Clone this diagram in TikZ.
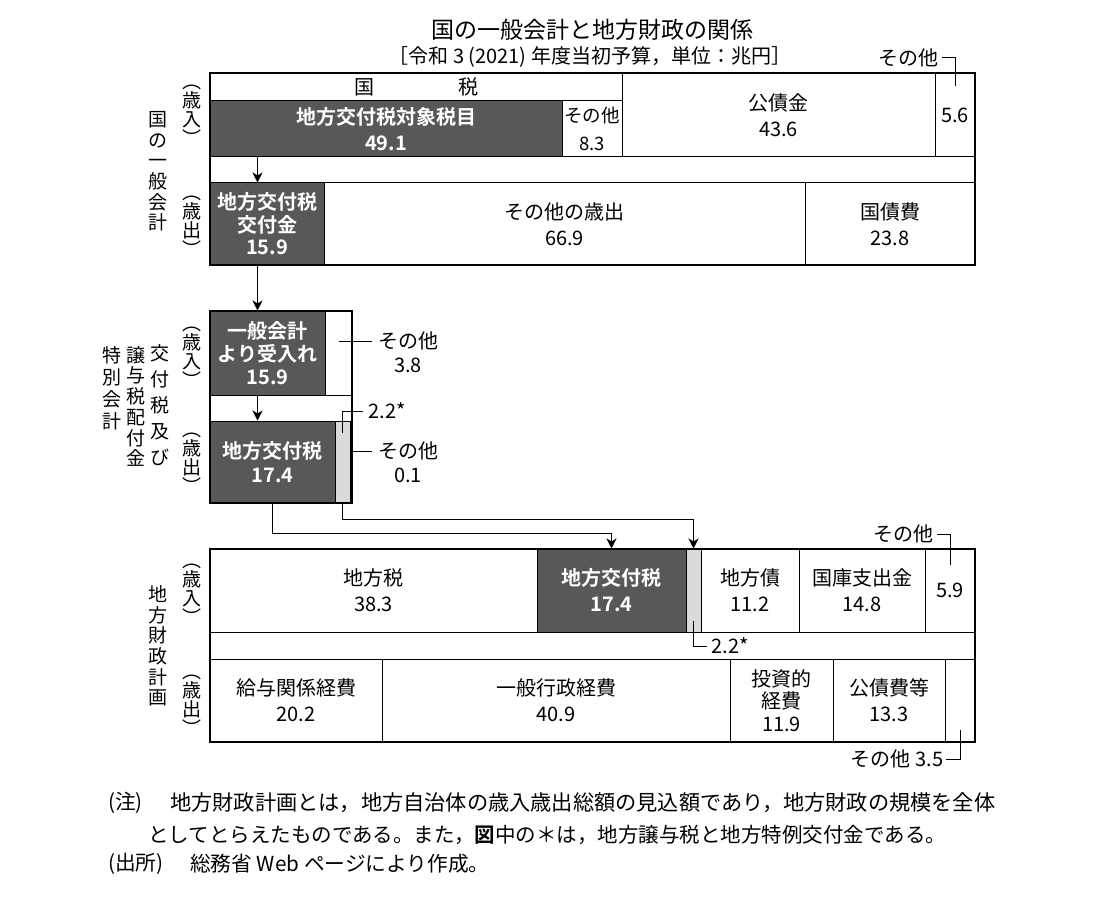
\documentclass[tikz,border=0pt]{standalone}
\usepackage{fontspec}
\setmainfont{Noto Sans CJK JP}[BoldFont={Noto Sans CJK JP Bold}]
\usetikzlibrary{arrows.meta}
\definecolor{dk}{HTML}{595757}
\definecolor{lg}{HTML}{D9DBDA}
\tikzset{
 cell/.style={draw, line width=1pt, inner sep=0pt, align=center, font=\fontsize{20}{26}\selectfont},
 dcell/.style={cell, fill=dk, text=white, font=\bfseries\fontsize{20}{26}\selectfont},
 frame/.style={draw, line width=1.9pt, inner sep=0pt},
 arr/.style={line width=1.8pt, -{Stealth[length=10pt,width=10pt,inset=3pt]}},
 thinl/.style={line width=1pt},
 lbl/.style={inner sep=0pt, font=\fontsize{20}{24}\selectfont, align=center},
 vlab/.style={inner sep=0pt, align=center, font=\fontsize{19}{20.6}\selectfont},
 vbr/.style={inner sep=0pt, align=center, font=\fontsize{19}{19}\selectfont},
}
\begin{document}
\begin{tikzpicture}[x=1pt,y=-1pt]
\useasboundingbox[fill=white] (0,0) rectangle (1097,904);

% title
\node[inner sep=0pt, font=\fontsize{23}{23}\selectfont] (title) at (592,30) {国の一般会計と地方財政の関係};
\node[inner sep=0pt, font=\fontsize{20}{20}\selectfont] (sub) at (590,57) {［令和 3 (2021) 年度当初予算，単位：兆円］};

% ---- national general account
\node[cell, minimum width=412pt, minimum height=28pt] (kz) at (416,87) {国\hspace{4.2em}税};
\node[dcell, minimum width=352pt, minimum height=56pt] (zk) at (386,129) {地方交付税対象税目\\49.1};
\node[cell, minimum width=60pt, minimum height=56pt, font=\fontsize{18.5}{28}\selectfont] (s1) at (592,129) {その他\\8.3};
\node[cell, minimum width=313pt, minimum height=84pt] (ks) at (778.5,115) {公債金\\43.6};
\node[cell, minimum width=40pt, minimum height=84pt] (s56) at (955,115) {5.6};
\node[dcell, minimum width=114pt, minimum height=82pt, font=\bfseries\fontsize{20}{22.5}\selectfont] (kk) at (267,224) {地方交付税\\交付金\\15.9};
\node[cell, minimum width=481pt, minimum height=82pt] (so) at (564.5,224) {その他の歳出\\66.9};
\node[cell, minimum width=170pt, minimum height=82pt] (kh) at (890,224) {国債費\\23.8};
\node[frame, minimum width=765pt, minimum height=192pt] (f1) at (592.5,169) {};

\node[lbl] (s56l) at (908,58) {その他};
\draw[thinl] ([xshift=4pt]s56l.east) -| ([yshift=29pt]s56.center);

\node[vlab] (v1) at (158,171.5) {国\\の\\一\\般\\会\\計};
\node[vbr] (v1a) at (192,115) {︵\\歳\\入\\︶};
\node[vbr] (v1b) at (192,226) {︵\\歳\\出\\︶};

% ---- special account
\node[dcell, minimum width=115pt, minimum height=84pt, font=\bfseries\fontsize{20}{23}\selectfont] (uk) at (267.5,353) {一般会計\\より受入れ\\15.9};
\node[cell, minimum width=27pt, minimum height=84pt] (ukr) at (338.5,353) {};
\node[dcell, minimum width=125pt, minimum height=82pt, font=\bfseries\fontsize{20}{24}\selectfont] (kf) at (272.5,462) {地方交付税\\17.4};
\node[cell, fill=lg, minimum width=15pt, minimum height=82pt] (gb) at (342.5,462) {};
\node[frame, minimum width=142pt, minimum height=192pt] (f2) at (281,407) {};

\node[lbl] (s38a) at (408,341) {その他};
\node[lbl] (s38b) at (408,365) {3.8};
\draw[thinl] (ukr.center |- s38a.west) -- ([xshift=-6pt]s38a.west);
\node[lbl] (s01a) at (408,451) {その他};
\node[lbl] (s01b) at (408,475) {0.1};
\draw[thinl] (f2.east |- s01a.west) -- ([xshift=-6pt]s01a.west);
\node[lbl] (s22) at (387,411) {2.2*};
\draw[thinl] ([yshift=-12pt]gb.north) |- ([xshift=-5pt]s22.west);

\node[vlab, font=\fontsize{19}{26}\selectfont] (v2a) at (160,405) {交\\付\\税\\及\\び};
\node[vlab, font=\fontsize{19}{20.7}\selectfont] (v2b) at (136,406.5) {譲\\与\\税\\配\\付\\金};
\node[vlab, font=\fontsize{19}{22}\selectfont] (v2c) at (112,388) {特\\別\\会\\計};
\node[vbr] (v2d) at (192,357) {︵\\歳\\入\\︶};
\node[vbr] (v2e) at (192,463) {︵\\歳\\出\\︶};

% ---- local finance plan
\node[cell, minimum width=327pt, minimum height=83pt] (cz) at (373.5,590.5) {地方税\\38.3};
\node[dcell, minimum width=149pt, minimum height=83pt] (chk) at (611.5,590.5) {地方交付税\\17.4};
\node[cell, fill=lg, minimum width=15pt, minimum height=83pt] (gb2) at (693.5,590.5) {};
\node[cell, minimum width=98pt, minimum height=83pt] (cs) at (750,590.5) {地方債\\11.2};
\node[cell, minimum width=126pt, minimum height=83pt] (kk2) at (862,590.5) {国庫支出金\\14.8};
\node[cell, minimum width=50pt, minimum height=83pt] (s59) at (950,590.5) {5.9};

\node[cell, minimum width=172pt, minimum height=83pt] (ky) at (296,700.5) {給与関係経費\\20.2};
\node[cell, minimum width=348pt, minimum height=83pt] (ip) at (556,700.5) {一般行政経費\\40.9};
\node[cell, minimum width=103pt, minimum height=83pt, font=\fontsize{20}{22.5}\selectfont] (ts) at (781.5,700.5) {投資的\\経費\\11.9};
\node[cell, minimum width=112pt, minimum height=83pt] (kh2) at (889,700.5) {公債費等\\13.3};
\node[cell, minimum width=30pt, minimum height=83pt] (s35) at (960,700.5) {};
\node[frame, minimum width=765pt, minimum height=193pt] (f3) at (592.5,645.5) {};

\node[lbl] (s59l) at (903,534) {その他};
\draw[thinl] ([xshift=4pt]s59l.east) -| ([yshift=26pt]s59.center);
\node[lbl] (s22b) at (730,646) {2.2*};
\draw[thinl] ([yshift=12pt]gb2.south) |- ([xshift=-4pt]s22b.west);
\node[lbl] (s35l) at (897,759) {その他 3.5};
\draw[thinl] ([yshift=-29pt]s35.center) |- ([xshift=3pt]s35l.east);

\node[vlab] (v3) at (158,646) {地\\方\\財\\政\\計\\画};
\node[vbr] (v3a) at (192,594) {︵\\歳\\入\\︶};
\node[vbr] (v3b) at (192,705) {︵\\歳\\出\\︶};

% ---- arrows
\draw[arr] ([xshift=48pt]zk.south west) -- ([xshift=48pt]kk.north west);
\draw[arr] ([xshift=48pt]kk.south west) -- ([xshift=48pt]uk.north west);
\draw[arr] ([xshift=48pt]uk.south west) -- ([xshift=48pt]kf.north west);
\draw[arr] ([xshift=63pt]kf.south west) -- ++(0,30) -| (chk.north);
\draw[arr] (gb.south) -- ++(0,16) -| (gb2.north);

% ---- notes
\node[anchor=west, inner sep=0pt, font=\fontsize{20.7}{20.7}\selectfont] (n1a) at (108,803) {(注)};
\node[anchor=west, inner sep=0pt, font=\fontsize{21.2}{21.2}\selectfont] (n1) at (170,803) {地方財政計画とは，地方自治体の歳入歳出総額の見込額であり，地方財政の規模を全体};
\node[anchor=west, inner sep=0pt, font=\fontsize{20.5}{20.5}\selectfont] (n2) at (148,835) {としてとらえたものである。また，\textbf{図}中の＊は，地方譲与税と地方特例交付金である。};
\node[anchor=west, inner sep=0pt, font=\fontsize{20.7}{20.7}\selectfont] (n3a) at (108,864) {(出所)};
\node[anchor=west, inner sep=0pt, font=\fontsize{20.7}{20.7}\selectfont] (n3) at (190,864) {総務省 Web ページにより作成。};
\end{tikzpicture}
\end{document}
